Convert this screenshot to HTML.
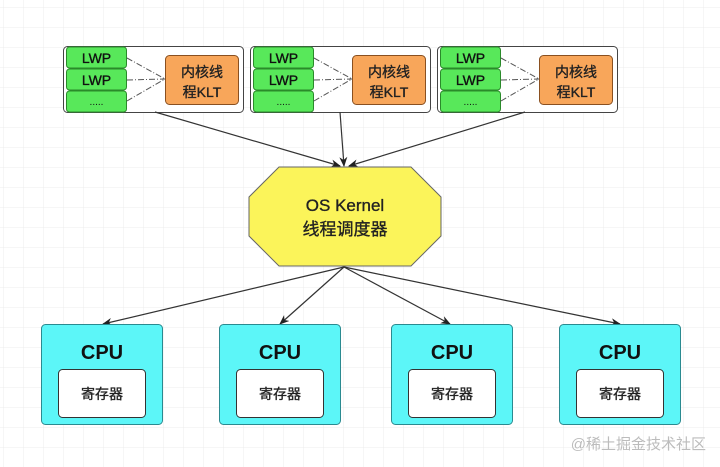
<!DOCTYPE html>
<html><head><meta charset="utf-8"><style>
html,body{margin:0;padding:0;background:#fff;}
svg{display:block;font-family:"Liberation Sans","Noto Sans CJK SC",sans-serif;}
.m{stroke:currentColor;stroke-width:0.35;}
</style></head><body>
<svg width="720" height="467" viewBox="0 0 720 467" xmlns="http://www.w3.org/2000/svg">
<defs>
<pattern id="g" width="20" height="20" patternUnits="userSpaceOnUse" x="4" y="8">
<path d="M20 0V20M0 20H20" fill="none" stroke="#ececec" stroke-width="1"/>
</pattern>
<marker id="a" markerWidth="10" markerHeight="8" refX="9" refY="4" orient="auto" markerUnits="userSpaceOnUse">
<path d="M0 0L10 4L0 8L3 4Z" fill="#222"/>
</marker>
</defs>
<rect width="720" height="467" fill="#fff"/>
<rect width="720" height="467" fill="url(#g)"/>

<g id="grp">
<rect x="63.5" y="46.5" width="180" height="66" rx="4" fill="#fff" stroke="#444"/>
<rect x="66.5" y="47" width="60" height="21" rx="3" fill="#58e85a" stroke="#2a8a2a"/>
<rect x="66.5" y="69" width="60" height="21" rx="3" fill="#58e85a" stroke="#2a8a2a"/>
<rect x="66.5" y="91" width="60" height="21" rx="3" fill="#58e85a" stroke="#2a8a2a"/>
<text class="m" x="96.5" y="63" font-size="14" text-anchor="middle" fill="#111" color="#111">LWP</text>
<text class="m" x="96.5" y="85" font-size="14" text-anchor="middle" fill="#111" color="#111">LWP</text>
<text x="96.5" y="105" font-size="10" text-anchor="middle" fill="#111">.....</text>
<path d="M127 58L165 79M127 80L165 79M127 101L165 79" stroke="#555" stroke-dasharray="6,2,1,2" fill="none"/>
<rect x="165.5" y="55.5" width="73" height="49" rx="4" fill="#f8a65a" stroke="#8a5020"/>
<text class="m" x="202" y="77" font-size="14" text-anchor="middle" fill="#222" color="#222">内核线</text>
<text class="m" x="202" y="97" font-size="14" text-anchor="middle" fill="#222" color="#222">程KLT</text>
</g>
<use href="#grp" x="187"/>
<use href="#grp" x="374"/>

<path d="M155 112L340 166" stroke="#333" stroke-width="1.2" marker-end="url(#a)"/>
<path d="M340 112L344 166" stroke="#333" stroke-width="1.2" marker-end="url(#a)"/>
<path d="M525 112L349 166" stroke="#333" stroke-width="1.2" marker-end="url(#a)"/>

<polygon points="279,167 411,167 441,197 441,236 411,266 279,266 249,236 249,197" fill="#fbf45a" stroke="#666"/>
<text class="m" x="345" y="211" font-size="17" text-anchor="middle" fill="#222" color="#222">OS Kernel</text>
<text class="m" x="345" y="235" font-size="17" text-anchor="middle" fill="#222" color="#222">线程调度器</text>

<path d="M344 267L103 324" stroke="#333" stroke-width="1.2" marker-end="url(#a)"/>
<path d="M344 267L280 324" stroke="#333" stroke-width="1.2" marker-end="url(#a)"/>
<path d="M344 267L450 324" stroke="#333" stroke-width="1.2" marker-end="url(#a)"/>
<path d="M344 267L620 324" stroke="#333" stroke-width="1.2" marker-end="url(#a)"/>

<g id="cpu">
<rect x="41.5" y="324.5" width="121" height="100" rx="4" fill="#5cf6f8" stroke="#2a8a90"/>
<text x="102" y="359" font-size="20" font-weight="bold" text-anchor="middle" fill="#111">CPU</text>
<rect x="58.5" y="369.5" width="87" height="48" rx="4" fill="#fff" stroke="#333"/>
<text class="m" x="102" y="399" font-size="14" text-anchor="middle" fill="#222" color="#222">寄存器</text>
</g>
<use href="#cpu" x="178"/>
<use href="#cpu" x="350"/>
<use href="#cpu" x="518"/>

<text x="706" y="449" font-size="15" text-anchor="end" fill="#bcbcbc">@稀土掘金技术社区</text>
</svg>
</body></html>
